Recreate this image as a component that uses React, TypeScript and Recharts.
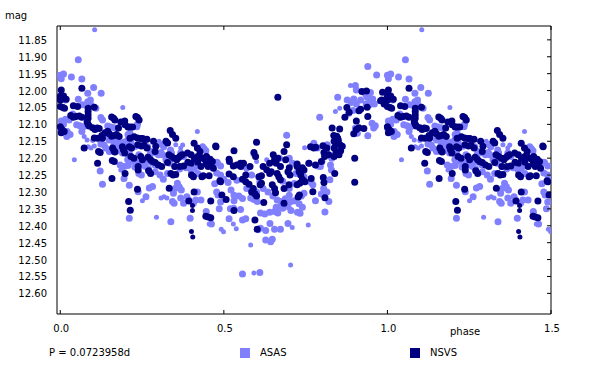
import React from 'react';
import { ScatterChart, Scatter, XAxis, YAxis } from 'recharts';

// phase / magnitude pairs (phase 0..1)
const asasBig: [number, number][] = [
  [0.0, 11.955], [0.003, 11.965], [0.01, 11.951], [0.034, 11.96], [0.055, 11.909], [0.066, 11.966],
  [0.102, 11.991], [0.084, 12.008], [0.084, 12.033], [0.125, 12.008], [0.055, 12.026], [0.016, 12.028],
  [0.092, 12.028], [0.094, 12.043], [0.068, 12.042], [0.109, 12.052], [0.038, 12.069], [0.045, 12.075],
  [0.016, 12.085], [0.027, 12.087], [0.003, 12.09], [0.01, 12.1], [0.0, 12.111], [0.021, 12.121],
  [0.05, 12.101], [0.06, 12.104], [0.071, 12.107], [0.066, 12.121], [0.03, 12.13], [0.02, 12.136],
  [0.124, 12.08], [0.129, 12.087], [0.124, 12.158], [0.134, 12.161], [0.139, 12.17], [0.15, 12.18],
  [0.155, 12.178], [0.164, 12.161], [0.145, 12.105], [0.155, 12.108], [0.165, 12.11], [0.14, 12.13],
  [0.15, 12.146], [0.164, 12.15], [0.18, 12.155], [0.195, 12.153], [0.206, 12.146], [0.216, 12.154],
  [0.207, 12.13], [0.213, 12.126], [0.236, 12.1], [0.234, 12.107], [0.173, 12.17], [0.185, 12.17],
  [0.189, 12.166], [0.2, 12.175], [0.211, 12.18], [0.231, 12.165], [0.209, 12.193], [0.22, 12.2],
  [0.232, 12.212], [0.246, 12.22], [0.258, 12.148], [0.267, 12.166], [0.277, 12.18], [0.274, 12.19],
  [0.292, 12.185], [0.28, 12.213], [0.29, 12.22], [0.297, 12.22], [0.308, 12.183], [0.313, 12.19],
  [0.312, 12.16], [0.316, 12.166], [0.337, 12.176], [0.34, 12.185], [0.368, 12.185], [0.377, 12.195],
  [0.206, 12.205], [0.214, 12.21], [0.183, 12.22], [0.195, 12.225], [0.122, 12.238], [0.129, 12.277],
  [0.195, 12.26], [0.211, 12.28], [0.211, 12.378], [0.238, 12.299], [0.262, 12.314], [0.272, 12.288],
  [0.282, 12.284], [0.207, 12.222], [0.228, 12.226], [0.24, 12.245], [0.248, 12.25], [0.29, 12.24],
  [0.305, 12.25], [0.315, 12.262], [0.328, 12.245], [0.338, 12.388], [0.343, 12.328], [0.348, 12.333],
  [0.346, 12.304], [0.352, 12.289], [0.358, 12.274], [0.364, 12.285], [0.37, 12.294], [0.368, 12.318],
  [0.377, 12.333], [0.387, 12.314], [0.392, 12.324], [0.397, 12.378], [0.407, 12.333], [0.414, 12.324],
  [0.419, 12.3], [0.43, 12.324], [0.446, 12.358], [0.462, 12.395], [0.478, 12.3], [0.482, 12.309],
  [0.49, 12.33], [0.486, 12.35], [0.472, 12.276], [0.478, 12.244], [0.49, 12.25], [0.5, 12.262],
  [0.435, 12.166], [0.445, 12.178], [0.44, 12.172], [0.48, 12.213], [0.49, 12.223], [0.478, 12.212],
  [0.3, 12.19], [0.19, 12.185], [0.177, 12.177], [0.24, 12.19], [0.255, 12.205], [0.265, 12.21],
  [0.323, 12.205], [0.335, 12.215], [0.35, 12.225], [0.365, 12.232], [0.385, 12.228], [0.4, 12.236],
  [0.41, 12.23], [0.42, 12.245], [0.26, 12.225], [0.27, 12.232],
  [0.513, 12.272], [0.516, 12.379], [0.557, 12.383], [0.567, 12.379], [0.522, 12.294], [0.531, 12.31],
  [0.531, 12.326], [0.546, 12.312], [0.557, 12.319], [0.582, 12.318], [0.592, 12.322], [0.597, 12.31],
  [0.602, 12.328], [0.52, 12.35], [0.53, 12.348], [0.551, 12.352], [0.61, 12.538], [0.604, 12.412],
  [0.612, 12.407], [0.628, 12.442], [0.643, 12.447], [0.648, 12.44], [0.628, 12.414], [0.655, 12.41],
  [0.673, 12.41], [0.641, 12.393], [0.696, 12.393], [0.612, 12.362], [0.625, 12.365], [0.64, 12.36],
  [0.655, 12.358], [0.665, 12.362], [0.673, 12.343], [0.66, 12.345], [0.68, 12.348], [0.696, 12.343],
  [0.705, 12.355], [0.725, 12.36], [0.733, 12.363], [0.74, 12.345], [0.663, 12.324], [0.675, 12.328],
  [0.688, 12.32], [0.705, 12.328], [0.715, 12.326], [0.737, 12.312], [0.745, 12.304], [0.78, 12.326],
  [0.798, 12.306], [0.809, 12.359], [0.821, 12.328], [0.767, 12.272], [0.772, 12.279], [0.787, 12.223],
  [0.795, 12.225], [0.826, 12.22], [0.829, 12.235], [0.824, 12.264], [0.592, 12.187], [0.67, 12.2],
  [0.692, 12.132], [0.775, 12.156], [0.786, 12.17], [0.816, 12.16], [0.821, 12.19], [0.83, 12.2],
  [0.84, 12.19], [0.845, 12.16], [0.852, 12.16], [0.793, 12.079], [0.848, 12.02], [0.877, 12.028],
  [0.89, 12.035], [0.897, 12.025], [0.905, 12.04], [0.918, 12.028], [0.882, 12.067], [0.895, 12.059],
  [0.902, 12.111], [0.908, 12.126], [0.94, 12.134], [0.953, 12.097], [0.958, 12.111], [0.963, 12.104],
  [0.94, 11.929], [0.967, 11.954], [0.902, 11.985], [0.905, 11.998], [0.933, 12.01], [0.938, 12.02],
  [0.942, 12.015], [0.947, 12.03], [0.95, 12.035], [0.955, 12.025], [0.948, 12.006], [0.935, 12.04],
  [0.945, 12.042], [0.96, 12.04], [0.557, 12.543], [0.7, 12.2], [0.71, 12.215], [0.76, 12.215],
  [0.8, 12.21], [0.57, 12.23], [0.585, 12.25], [0.61, 12.27], [0.62, 12.29], [0.635, 12.3],
  [0.65, 12.312], [0.7, 12.29], [0.715, 12.275], [0.68, 12.268], [0.54, 12.265], [0.57, 12.29],
  [0.6, 12.3], [0.72, 12.245], [0.745, 12.255], [0.805, 12.29], [0.815, 12.3], [0.7, 12.31], [0.73, 12.335],
];

const asasSmall: [number, number][] = [
  [0.105, 11.82], [0.191, 12.05], [0.043, 12.205], [0.193, 12.262], [0.251, 12.326], [0.294, 12.375],
  [0.308, 12.318], [0.317, 12.314], [0.419, 12.121], [0.374, 12.161], [0.353, 12.16], [0.368, 12.17],
  [0.302, 12.15], [0.099, 12.148], [0.104, 12.164], [0.073, 12.136], [0.082, 12.146], [0.085, 12.166],
  [0.094, 12.17], [0.155, 12.141], [0.16, 12.146], [0.185, 12.235], [0.448, 12.361], [0.455, 12.395],
  [0.462, 12.395], [0.492, 12.41], [0.499, 12.418], [0.529, 12.395], [0.538, 12.409], [0.582, 12.457],
  [0.704, 12.516], [0.709, 12.405], [0.758, 12.398], [0.887, 11.985], [0.854, 12.052], [0.841, 12.062],
  [0.747, 12.169], [0.6, 12.21], [0.631, 12.205], [0.592, 12.54], [0.326, 12.318],
];

const nsvsBig: [number, number][] = [
  [0.003, 11.998], [0.0, 12.017], [0.005, 12.025], [0.01, 12.016], [0.018, 12.026], [0.0, 12.028],
  [0.0, 12.047], [0.008, 12.05], [0.013, 12.052], [0.04, 12.045], [0.053, 12.047], [0.032, 12.074],
  [0.04, 12.079], [0.048, 12.077], [0.058, 12.075], [0.066, 12.079], [0.085, 12.052], [0.085, 12.062],
  [0.085, 12.072], [0.085, 12.082], [0.104, 12.049], [0.066, 11.993], [0.082, 12.092], [0.085, 12.1],
  [0.088, 12.105], [0.0, 12.107], [0.005, 12.115], [0.012, 12.121], [0.003, 12.125], [0.073, 12.17],
  [0.099, 12.11], [0.106, 12.115], [0.113, 12.111], [0.119, 12.112], [0.104, 12.14], [0.114, 12.141],
  [0.129, 12.141], [0.127, 12.133], [0.117, 12.18], [0.114, 12.215], [0.137, 12.125], [0.145, 12.12],
  [0.15, 12.128], [0.157, 12.135], [0.165, 12.133], [0.172, 12.13], [0.178, 12.111], [0.18, 12.136],
  [0.157, 12.078], [0.163, 12.082], [0.167, 12.087], [0.185, 12.093], [0.198, 12.101], [0.159, 12.207],
  [0.165, 12.21], [0.16, 12.17], [0.164, 12.178], [0.167, 12.182], [0.19, 12.166], [0.193, 12.175],
  [0.197, 12.185], [0.197, 12.09], [0.207, 12.108], [0.213, 12.108], [0.221, 12.108], [0.231, 12.077],
  [0.236, 12.08], [0.241, 12.087], [0.213, 12.141], [0.226, 12.137], [0.211, 12.166], [0.218, 12.17],
  [0.236, 12.14], [0.246, 12.142], [0.252, 12.142], [0.265, 12.144], [0.237, 12.16], [0.248, 12.164],
  [0.256, 12.162], [0.265, 12.17], [0.285, 12.15], [0.292, 12.165], [0.29, 12.18], [0.216, 12.195],
  [0.225, 12.2], [0.246, 12.195], [0.251, 12.205], [0.268, 12.197], [0.276, 12.205], [0.282, 12.21],
  [0.29, 12.213], [0.3, 12.22], [0.31, 12.225], [0.238, 12.225], [0.336, 12.118], [0.343, 12.13],
  [0.353, 12.141], [0.323, 12.15], [0.328, 12.155], [0.332, 12.19], [0.34, 12.195], [0.348, 12.2],
  [0.356, 12.205], [0.362, 12.198], [0.368, 12.193], [0.373, 12.19], [0.35, 12.225], [0.365, 12.225],
  [0.377, 12.223], [0.409, 12.156], [0.419, 12.17], [0.427, 12.18], [0.389, 12.185], [0.4, 12.19],
  [0.41, 12.2], [0.42, 12.195], [0.43, 12.198], [0.44, 12.202], [0.45, 12.205], [0.458, 12.203],
  [0.39, 12.212], [0.4, 12.215], [0.42, 12.212], [0.43, 12.225], [0.475, 12.164], [0.122, 12.183],
  [0.158, 12.26], [0.198, 12.245], [0.209, 12.328], [0.214, 12.354], [0.238, 12.235], [0.236, 12.292],
  [0.27, 12.237], [0.276, 12.245], [0.333, 12.289], [0.328, 12.213], [0.338, 12.245], [0.345, 12.25],
  [0.353, 12.248], [0.401, 12.25], [0.407, 12.255], [0.433, 12.255], [0.409, 12.3], [0.393, 12.327],
  [0.445, 12.372], [0.452, 12.374], [0.46, 12.376], [0.46, 12.327], [0.445, 12.217], [0.452, 12.225],
  [0.46, 12.222], [0.468, 12.23], [0.49, 12.27], [0.494, 12.309], [0.507, 12.322], [0.488, 12.267],
  [0.437, 12.252], [0.455, 12.252], [0.437, 12.2], [0.447, 12.195], [0.465, 12.21],
  [0.516, 12.203], [0.531, 12.178], [0.516, 12.247], [0.529, 12.255], [0.531, 12.355], [0.529, 12.223],
  [0.551, 12.215], [0.557, 12.262], [0.567, 12.25], [0.567, 12.27], [0.577, 12.277], [0.585, 12.3],
  [0.59, 12.29], [0.595, 12.305], [0.6, 12.312], [0.595, 12.383], [0.602, 12.41], [0.6, 12.153],
  [0.592, 12.183], [0.597, 12.195], [0.607, 12.255], [0.615, 12.252], [0.611, 12.279], [0.615, 12.274],
  [0.622, 12.331], [0.631, 12.234], [0.64, 12.245], [0.645, 12.24], [0.651, 12.19], [0.655, 12.205],
  [0.66, 12.215], [0.665, 12.2], [0.648, 12.279], [0.655, 12.29], [0.658, 12.302], [0.663, 12.245],
  [0.668, 12.255], [0.673, 12.264], [0.665, 12.02], [0.684, 12.18], [0.689, 12.205], [0.692, 12.16],
  [0.7, 12.228], [0.702, 12.25], [0.696, 12.24], [0.684, 12.29], [0.699, 12.279], [0.684, 12.333],
  [0.724, 12.225], [0.73, 12.24], [0.735, 12.25], [0.74, 12.262], [0.745, 12.235], [0.748, 12.27],
  [0.724, 12.279], [0.732, 12.274], [0.727, 12.315], [0.731, 12.309], [0.767, 12.26], [0.772, 12.299],
  [0.809, 12.317], [0.804, 12.257], [0.806, 12.272], [0.765, 12.166], [0.775, 12.17], [0.781, 12.168],
  [0.803, 12.163], [0.806, 12.183], [0.808, 12.195], [0.815, 12.17], [0.82, 12.19], [0.831, 12.111],
  [0.854, 12.114], [0.836, 12.133], [0.848, 12.141], [0.845, 12.135], [0.837, 12.15], [0.842, 12.158],
  [0.85, 12.148], [0.855, 12.16], [0.837, 12.17], [0.843, 12.18], [0.848, 12.187], [0.837, 12.195],
  [0.852, 12.19], [0.857, 12.178], [0.862, 12.165], [0.839, 12.245], [0.9, 12.2], [0.9, 12.271],
  [0.87, 12.079], [0.876, 12.05], [0.883, 12.064], [0.897, 12.128], [0.905, 12.115], [0.913, 12.11],
  [0.928, 12.112], [0.905, 12.09], [0.913, 12.06], [0.918, 12.055], [0.938, 12.049], [0.94, 12.077],
  [0.922, 12.003], [0.936, 12.001], [0.979, 12.03], [0.983, 12.028], [0.99, 12.04], [0.985, 12.005],
  [0.476, 12.166], [0.517, 12.21], [0.54, 12.22], [0.552, 12.225], [0.56, 12.215], [0.62, 12.225],
  [0.673, 12.225], [0.724, 12.217], [0.74, 12.228], [0.76, 12.215], [0.78, 12.22], [0.798, 12.21],
  [0.64, 12.215], [0.58, 12.225],
];

const nsvsSmall: [number, number][] = [
  [0.404, 12.34], [0.404, 12.355], [0.401, 12.417], [0.405, 12.433],
];

const xTicks = [0, 0.5, 1, 1.5];
const yTicks = [11.85, 11.9, 11.95, 12.0, 12.05, 12.1, 12.15, 12.2, 12.25, 12.3, 12.35, 12.4, 12.45, 12.5, 12.55, 12.6];

const period = 'P = 0.0723958d';

const FONT = '"DejaVu Sans", Verdana, sans-serif';
const FS = 10;
const ASAS_COLOR = '#8080ff';
const NSVS_COLOR = '#000080';

// phases up to 0.5 are shown a second time between 1.0 and 1.5
const fold = (pts: [number, number][]) =>
  pts.flatMap(([phase, mag]) =>
    phase <= 0.5 ? [{ phase, mag }, { phase: phase + 1, mag }] : [{ phase, mag }]
  );

const dot = (r: number, color: string) => (props: any) =>
  <circle cx={props.cx} cy={props.cy} r={r} fill={color} />;

const BottomTick = (props: any) => {
  const { x, y, payload } = props;
  return (
    <g>
      <line x1={x} y1={y} x2={x} y2={y - 4} stroke="#000" />
      <text x={x + 1} y={y + 18} textAnchor="middle" fontSize={FS} fontFamily={FONT} fill="#000">
        {payload.value.toFixed(1)}
      </text>
    </g>
  );
};

const LeftTick = (props: any) => {
  const { x, y, payload } = props;
  return (
    <text x={x} y={y + 4} textAnchor="end" fontSize={FS} fontFamily={FONT} fill="#000">
      {payload.value.toFixed(2)}
    </text>
  );
};

const TopTick = (props: any) => (
  <line x1={props.x} y1={props.y} x2={props.x} y2={props.y + 4} stroke="#000" />
);

const RightTick = (props: any) => (
  <line x1={props.x} y1={props.y} x2={props.x - 4} y2={props.y} stroke="#000" />
);

const label: React.CSSProperties = { position: 'absolute', fontSize: FS, lineHeight: '12px', color: '#000' };

export default function App() {
  const xDomain = [-0.01, 1.5];
  const yDomain = [11.809, 12.661];
  return (
    <div style={{ position: 'absolute', left: 0, top: 0, width: 600, height: 371, background: '#fff', fontFamily: FONT }}>
      <ScatterChart width={600} height={371} margin={{ top: 25, right: 39, bottom: 27, left: 0 }}>
        <XAxis
          xAxisId={0} type="number" dataKey="phase" domain={xDomain} ticks={xTicks} allowDataOverflow
          interval={0} height={30} tickSize={0} tickMargin={0} tickLine={false} tick={<BottomTick />}
          axisLine={{ stroke: '#000' }}
        />
        <XAxis
          xAxisId="top" orientation="top" type="number" dataKey="phase" domain={xDomain} ticks={xTicks}
          allowDataOverflow interval={0} height={1} tickSize={0} tickMargin={0} tickLine={false}
          tick={<TopTick />} axisLine={{ stroke: '#000' }}
        />
        <YAxis
          yAxisId={0} type="number" dataKey="mag" domain={yDomain} ticks={yTicks} reversed allowDataOverflow
          interval={0} width={57} tickSize={0} tickMargin={10} tickLine={false} tick={<LeftTick />}
          axisLine={{ stroke: '#000' }}
        />
        <YAxis
          yAxisId="right" orientation="right" type="number" dataKey="mag" domain={yDomain} ticks={yTicks}
          reversed allowDataOverflow interval={0} width={10} tickSize={0} tickMargin={0} tickLine={false}
          tick={<RightTick />} axisLine={{ stroke: '#000' }}
        />
        <Scatter data={fold(asasBig)} shape={dot(3.5, ASAS_COLOR)} isAnimationActive={false} />
        <Scatter data={fold(asasSmall)} shape={dot(2.5, ASAS_COLOR)} isAnimationActive={false} />
        <Scatter data={fold(nsvsBig)} shape={dot(3.5, NSVS_COLOR)} isAnimationActive={false} />
        <Scatter data={fold(nsvsSmall)} shape={dot(2.5, NSVS_COLOR)} isAnimationActive={false} />
      </ScatterChart>
      <div style={{ ...label, left: 5, top: 10 }}>mag</div>
      <div style={{ ...label, left: 450, top: 326 }}>phase</div>
      <div style={{ ...label, left: 49, top: 347 }}>{period}</div>
      <div style={{ position: 'absolute', left: 240, top: 348, width: 10, height: 10, background: ASAS_COLOR }} />
      <div style={{ ...label, left: 260, top: 347 }}>ASAS</div>
      <div style={{ position: 'absolute', left: 410, top: 348, width: 10, height: 10, background: NSVS_COLOR }} />
      <div style={{ ...label, left: 430, top: 347 }}>NSVS</div>
    </div>
  );
}
